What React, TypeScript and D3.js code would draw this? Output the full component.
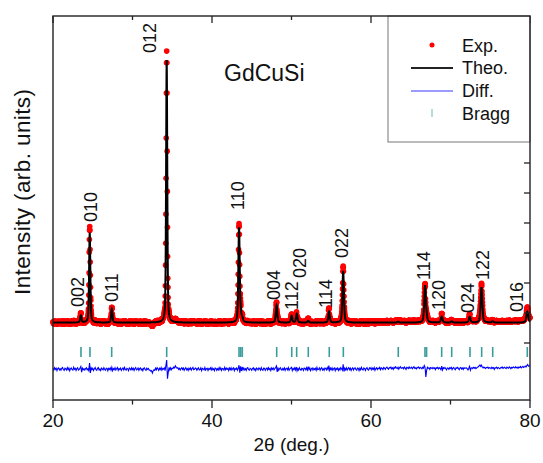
import React from "react";
import * as d3 from "d3";

const WIDTH = 543;
const HEIGHT = 463;
const FONT = "'Liberation Sans', Arial, Helvetica, sans-serif";

// ---- data ----
const X_TICKS_MAJOR = [20, 40, 60, 80];
const X_TICKS_MINOR = [30, 50, 70];
const Y_TICKS = [0, 1000, 2000, 3000, 4000, 5000, 6000, 7000, 8000, 9000, 10000];

// calculated-pattern peaks (2θ, intensity above background, FWHM)
const PEAK_POS = [23.5, 24.62, 27.4, 34.3, 43.4, 43.62, 43.82, 48.12, 50.02, 50.66, 52.1, 54.72, 56.5, 63.4, 66.8, 67.0, 68.9, 70.15, 72.42, 73.9, 75.3, 79.66];
const PEAK_INT = [230, 3000, 450, 8750, 3150, 220, 100, 580, 220, 290, 60, 360, 1720, 30, 1220, 120, 200, 40, 190, 1180, 40, 370];
const PEAK_FWHM = [0.2, 0.18, 0.2, 0.17, 0.2, 0.2, 0.2, 0.22, 0.22, 0.22, 0.22, 0.22, 0.22, 0.25, 0.24, 0.24, 0.25, 0.25, 0.25, 0.25, 0.26, 0.28];
const BACKGROUND = 680;

// hkl labels: text, 2θ of label centre, intensity level of label start
const HKL_TEXT = ["002", "010", "011", "012", "110", "004", "112", "020", "114", "022", "114", "120", "024", "122", "016"];
const HKL_X = [23.08, 24.78, 27.3, 32.2, 43.27, 47.74, 49.94, 51.07, 54.34, 56.3, 66.6, 68.55, 72.08, 74.09, 78.36];
const HKL_Y = [1200, 4033, 1367, 9667, 4433, 1433, 1100, 2167, 1167, 2833, 2100, 1100, 1000, 2100, 1033];

// Bragg reflection positions
const BRAGG_POS = [23.52, 24.65, 27.38, 34.3, 43.4, 43.61, 43.81, 48.14, 50.03, 50.65, 52.11, 54.75, 56.52, 63.43, 66.79, 66.99, 68.89, 70.15, 72.45, 73.92, 75.31, 79.66];
const BRAGG_LEVEL = -300;

// difference (obs - calc), 0.1° steps from 20.0 to 80.0
const DIFF_START = 20;
const DIFF_STEP = 0.1;
const DIFF_OFFSET = -870;
const DIFF = [
  20, -35, 45, -10, 30, -50, 15, 40, -25, 10,
  -40, 25, 55, -15, -45, 30, 5, -30, 50, -20,
  35, -55, 10, 40, -20, -35, 60, -5, 25, -45,
  15, 45, -30, -10, 40, 90, -100, 30, -20, 10,
  -35, 20, 45, -25, 10, -50, 200, -130, 40, -15,
  30, -45, 15, 55, -20, -40, 25, 50, -30, 5,
  -50, 35, 10, -25, 45, -15, -40, 30, 20, -55,
  25, -10, 40, -35, 60, -50, 15, -20, 45, -30,
  10, 50, -40, 20, -15, 35, -45, 5, 40, -25,
  55, -20, -35, 25, 10, -50, 40, 15, -30, 45,
  -15, 30, -45, 20, 50, -25, -10, 35, -40, 15,
  40, -30, 10, -55, 25, 45, -20, -40, 30, -10,
  20, -35, -30, -70, -50, -130, -60, -20, -40, 30,
  -25, 45, 10, -40, 30, -15, 50, -35, 20, -5,
  40, -50, 120, 300, -320, -100, 60, -30, 45, -20,
  30, 20, 70, 40, 110, 60, 30, 50, -10, 25,
  -30, 20, 45, -15, 35, -40, 10, 50, -25, 15,
  -45, 30, -10, 40, -35, 20, 55, -20, -5, 35,
  20, -40, 15, 45, -30, -15, 40, -50, 25, 10,
  -25, 50, -35, 15, 30, -45, 20, -10, 40, -30,
  45, -20, 10, -50, 35, 25, -40, 15, -30, 50,
  -15, 40, -45, 20, 10, -35, 55, -25, 30, -10,
  25, -50, 35, -20, 45, -30, 15, 40, -55, 20,
  -10, 35, -40, 25, 130, -120, 90, -60, 70, -30,
  40, -25, 15, -45, 30, 50, -20, -35, 25, 10,
  -40, 20, 45, -30, 15, -50, 35, 10, -25, 40,
  15, -35, 50, -20, -40, 30, 25, -45, 10, 35,
  -30, 45, -15, 20, -50, 40, -10, 35, -25, 15,
  50, 100, -90, 30, -40, 20, 45, -15, -35, 25,
  -20, 40, -45, 15, 30, -25, 50, -40, 10, 35,
  60, -50, 25, -15, 40, -30, 70, -60, 20, -35,
  45, -10, -40, 30, 15, -45, 35, 20, -25, 50,
  -30, 80, -20, 40, -50, 10, 35, -35, 25, -15,
  30, -45, 55, -20, -10, 40, -35, 25, 45, -30,
  10, -40, 35, 20, -25, 50, -15, 120, -40, 30,
  -20, 45, -35, 15, 40, -50, 25, -10, 35, -45,
  20, -30, 45, 10, -40, 160, -80, 30, -25, 40,
  -35, 15, 50, -20, 30, -45, 10, 40, -30, 25,
  45, -15, -40, 35, 20, -50, 30, -25, 55, -10,
  -30, 40, 15, -45, 25, 50, -20, -35, 40, 10,
  50, -25, 30, -10, 55, -40, 20, 45, -15, 35,
  10, 60, -20, 40, 25, -15, 55, 30, -10, 45,
  65, 20, -5, 50, 35, 70, 10, 45, -10, 60,
  30, 75, 40, 15, 60, -5, 50, 80, 25, 40,
  55, 10, 70, 35, -10, 60, 45, 20, 75, 30,
  40, 65, 15, 50, 80, 25, 45, 5, 60, 35,
  70, 20, 55, 40, 10, 60, 30, 120, 60, -260,
  -40, 60, 25, 45, -10, 50, 35, 15, 55, 20,
  40, -15, 50, 25, 60, 5, 45, 30, -20, 100,
  -30, 45, 20, 55, 10, -25, 40, 30, -10, 50,
  25, 60, -15, 35, 50, 10, -20, 45, 30, 55,
  15, -20, 40, 55, 5, 35, -15, 50, 25, 40,
  45, 10, -25, 30, 90, -40, 35, 50, 20, 60,
  30, 55, 15, 40, 65, 80, 110, 140, 90, 130,
  60, 35, 70, 45, 20, 55, 40, 65, 25, 50,
  40, 15, 60, 30, 50, -10, 45, 35, 65, 20,
  55, 30, 10, 50, 40, 70, 25, 45, 60, 35,
  20, 65, 45, 30, 75, 50, 15, 60, 40, 70,
  55, 35, 80, 45, 60, 25, 70, 50, 85, 40,
  65, 90, 55, 75, 100, 70, 120, 150, 95, 110,
  130,
];

// ---- layout ----
const X0 = 53, X1 = 530, Y0 = 16, Y1 = 400;
const x = d3.scaleLinear().domain([20, 80]).range([X0, X1]);
const y = d3.scaleLinear().domain([-1900, 10900]).range([Y1, Y0]);

const ETA = 0.45;
function calc(t: number): number {
  let s = BACKGROUND;
  for (let i = 0; i < PEAK_POS.length; i++) {
    const u = (t - PEAK_POS[i]) / PEAK_FWHM[i];
    const L = 1 / (1 + 4 * u * u);
    const G = Math.exp(-4 * Math.LN2 * u * u);
    s += PEAK_INT[i] * (ETA * L + (1 - ETA) * G);
  }
  return s;
}

const FINE = d3.range(0, 3001).map((i) => 20 + i * 0.02);
const theo = FINE.map((t) => ({ t, v: calc(t) }));
const exp = FINE.map((t) => {
  const k = Math.round((t - DIFF_START) / DIFF_STEP);
  return { t, v: calc(t) + DIFF[k] };
});
const diffPts = DIFF.map((d, i) => ({ t: DIFF_START + i * DIFF_STEP, v: DIFF_OFFSET + d }));

const line = d3
  .line<{ t: number; v: number }>()
  .x((d) => x(d.t))
  .y((d) => y(d.v));

export default function App() {
  const txt = { fontFamily: FONT, fill: "#111" } as const;
  return (
    <svg
      width={WIDTH}
      height={HEIGHT}
      style={{ position: "absolute", left: 0, top: 0, background: "#fff" }}
    >
      <rect x={0} y={0} width={WIDTH} height={HEIGHT} fill="#fff" />
      {/* exp dots */}
      <g fill="#ff0000">
        {exp.map((d, i) => (
          <circle key={i} cx={x(d.t)} cy={y(d.v)} r={2.8} />
        ))}
      </g>
      {/* theo */}
      <path d={line(theo) || ""} fill="none" stroke="#000" strokeWidth={2} />
      {/* diff */}
      <path d={line(diffPts) || ""} fill="none" stroke="#0000ff" strokeWidth={1.1} />
      {/* bragg ticks */}
      <g stroke="#3a9c9c" strokeWidth={1.6}>
        {BRAGG_POS.map((b, i) => (
          <line key={i} x1={x(b)} x2={x(b)} y1={y(BRAGG_LEVEL) - 5} y2={y(BRAGG_LEVEL) + 5} />
        ))}
      </g>
      {/* hkl labels */}
      {HKL_TEXT.map((h, i) => (
        <text
          key={i}
          transform={`translate(${x(HKL_X[i])},${y(HKL_Y[i])}) rotate(-90)`}
          dy="0.36em"
          fontSize={18}
          {...txt}
        >
          {h}
        </text>
      ))}
      <text x={224} y={81} fontSize={23} {...txt}>
        GdCuSi
      </text>
      {/* right axis ticks (inward) and top/bottom ticks */}
      <g stroke="#222" strokeWidth={1.3}>
        {Y_TICKS.map((v) => (
          <line key={v} x1={X1 - 6} x2={X1} y1={y(v)} y2={y(v)} />
        ))}
        {X_TICKS_MAJOR.map((v) => (
          <g key={"M" + v}>
            <line x1={x(v)} x2={x(v)} y1={Y1} y2={Y1 + 8} />
            <line x1={x(v)} x2={x(v)} y1={Y0} y2={Y0 + 7} />
          </g>
        ))}
        {X_TICKS_MINOR.map((v) => (
          <g key={"m" + v}>
            <line x1={x(v)} x2={x(v)} y1={Y1} y2={Y1 + 4.5} />
            <line x1={x(v)} x2={x(v)} y1={Y0} y2={Y0 + 4} />
          </g>
        ))}
      </g>
      {/* legend */}
      <rect x={388} y={Y0} width={X1 - 388} height={142 - Y0} fill="#fff" stroke="#777" strokeWidth={1} />
      <circle cx={432} cy={45} r={2.5} fill="#ff0000" />
      <line x1={411} x2={453} y1={68} y2={68} stroke="#222" strokeWidth={2} />
      <line x1={411} x2={453} y1={91} y2={91} stroke="#9a9aff" strokeWidth={2} />
      <line x1={432} x2={432} y1={109} y2={117} stroke="#9fd0d0" strokeWidth={1.5} />
      {["Exp.", "Theo.", "Diff.", "Bragg"].map((s, i) => (
        <text key={s} x={462} y={51.5 + i * 22.8} fontSize={18} {...txt}>
          {s}
        </text>
      ))}
      {/* frame */}
      <rect x={X0} y={Y0} width={X1 - X0} height={Y1 - Y0} fill="none" stroke="#222" strokeWidth={1.4} />
      {/* x tick labels */}
      {X_TICKS_MAJOR.map((v) => (
        <text key={v} x={x(v)} y={426.5} fontSize={19} textAnchor="middle" {...txt}>
          {v}
        </text>
      ))}
      <text x={(X0 + X1) / 2} y={451} fontSize={19} textAnchor="middle" {...txt}>
        2θ (deg.)
      </text>
      <text
        transform={`translate(30,192) rotate(-90)`}
        fontSize={22.5}
        textAnchor="middle"
        textLength={206}
        lengthAdjust="spacing"
        {...txt}
      >
        Intensity (arb. units)
      </text>
    </svg>
  );
}
